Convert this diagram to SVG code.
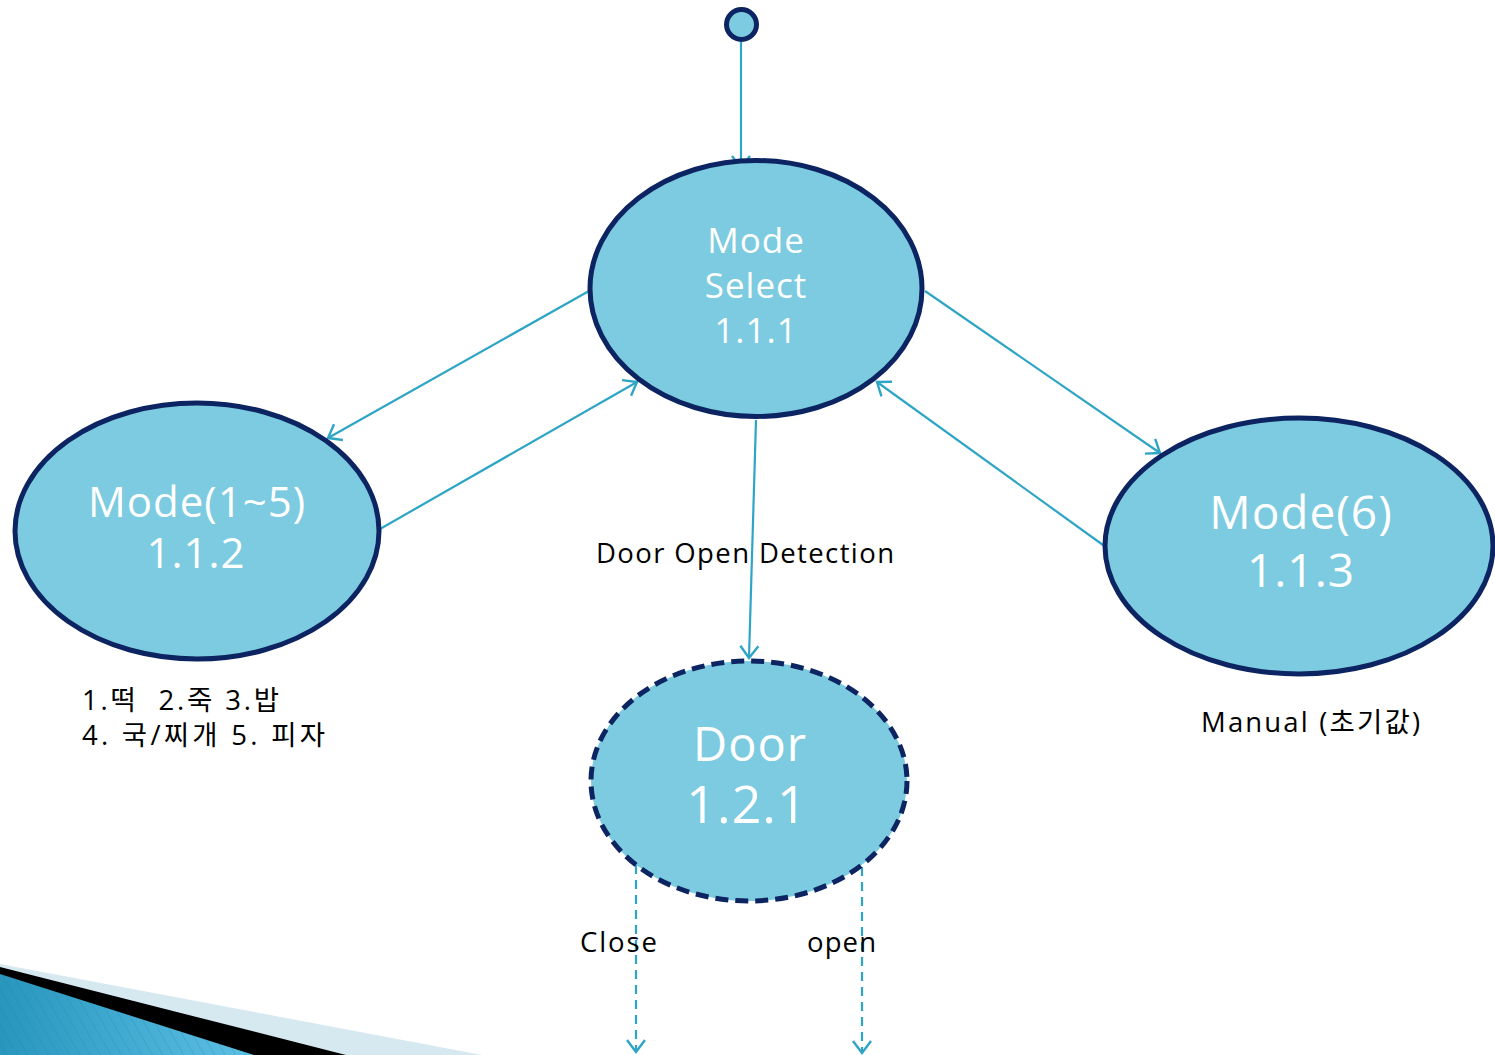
<svg xmlns="http://www.w3.org/2000/svg" width="1495" height="1055" viewBox="0 0 1495 1055">
<style>
.node{fill:#7ccbe0;stroke:#0c2461;stroke-width:5}
.dash{stroke-dasharray:13 7}
.conn{fill:none;stroke:#2fa5c6;stroke-width:2.2}
.dconn{stroke-dasharray:9 6}
.nt{font-family:"Open Sans","Noto Sans",sans-serif;fill:#ffffff;text-anchor:middle;letter-spacing:1px}
.lb{font-family:"Open Sans","Noto Sans CJK KR",sans-serif;fill:#000000;font-size:27.5px;white-space:pre}
</style>
<defs>
<marker id="arr" markerUnits="userSpaceOnUse" markerWidth="30" markerHeight="30" viewBox="-15 -15 30 30" refX="0" refY="0" orient="auto" overflow="visible">
<path d="M-12,-9 L0,0 L-12,9" fill="none" stroke="#2fa5c6" stroke-width="2.4"/>
</marker>
<linearGradient id="bg" x1="0" y1="0" x2="1" y2="0">
<stop offset="0" stop-color="#2896bd"/>
<stop offset="1" stop-color="#5dc0e4"/>
</linearGradient>
<pattern id="hatch" patternUnits="userSpaceOnUse" width="9" height="9" patternTransform="rotate(-30)">
<line x1="0" y1="0" x2="0" y2="9" stroke="#1f7fa6" stroke-width="1" stroke-opacity="0.45"/>
</pattern>
</defs>

<g id="decoration">
<polygon points="0,964 482,1055 0,1055" fill="#d6e9f1"/>
<polygon points="0,967 346,1055 0,1055" fill="#000000"/>
<polygon points="0,974 254,1055 0,1055" fill="url(#bg)"/>
<polygon points="0,974 254,1055 0,1055" fill="url(#hatch)"/>
</g>

<g id="connectors">
<line class="conn" x1="741" y1="42" x2="741" y2="168" marker-end="url(#arr)"/>
<line class="conn" x1="589" y1="291" x2="328" y2="438" marker-end="url(#arr)"/>
<line class="conn" x1="380" y1="529" x2="637" y2="382" marker-end="url(#arr)"/>
<line class="conn" x1="925" y1="291" x2="1160" y2="453" marker-end="url(#arr)"/>
<line class="conn" x1="1103" y1="545" x2="877" y2="382" marker-end="url(#arr)"/>
<line class="conn" x1="756" y1="420" x2="749" y2="658" marker-end="url(#arr)"/>
<line class="conn dconn" x1="636" y1="865" x2="636" y2="1052" marker-end="url(#arr)"/>
<line class="conn dconn" x1="862" y1="867" x2="862" y2="1053" marker-end="url(#arr)"/>
</g>

<g id="initial">
<circle cx="741.5" cy="24.5" r="15" fill="#7ccbe0" stroke="#0c2461" stroke-width="5"/>
</g>

<g id="mode-select">
<ellipse class="node" cx="756" cy="288.5" rx="166" ry="128"/>
<text class="nt" font-size="35" x="756" y="253">Mode</text>
<text class="nt" font-size="35" x="756" y="298">Select</text>
<text class="nt" font-size="35" x="756" y="343">1.1.1</text>
</g>

<g id="mode-1-5">
<ellipse class="node" cx="197" cy="531" rx="182" ry="128"/>
<text class="nt" font-size="42" x="197" y="517">Mode(1~5)</text>
<text class="nt" font-size="42" x="196" y="568">1.1.2</text>
</g>

<g id="mode-6">
<ellipse class="node" cx="1299" cy="546" rx="194" ry="128"/>
<text class="nt" font-size="46" x="1301" y="529">Mode(6)</text>
<text class="nt" font-size="46" x="1301" y="587">1.1.3</text>
</g>

<g id="door">
<ellipse class="node dash" cx="749" cy="781" rx="158" ry="120"/>
<text class="nt" font-size="47" x="750" y="761">Door</text>
<text class="nt" font-size="52" x="747" y="823">1.2.1</text>
</g>

<g id="labels">
<text class="lb" x="596" y="563" textLength="298" lengthAdjust="spacing">Door Open Detection</text>
<text class="lb" x="82" y="710" textLength="197" lengthAdjust="spacing" xml:space="preserve">1.떡  2.죽 3.밥</text>
<text class="lb" x="82" y="745" textLength="243" lengthAdjust="spacing">4. 국/찌개 5. 피자</text>
<text class="lb" x="1201" y="732" textLength="219" lengthAdjust="spacing">Manual (초기값)</text>
<text class="lb" x="580" y="952" textLength="77" lengthAdjust="spacing">Close</text>
<text class="lb" x="807" y="952" textLength="69" lengthAdjust="spacing">open</text>
</g>
</svg>
